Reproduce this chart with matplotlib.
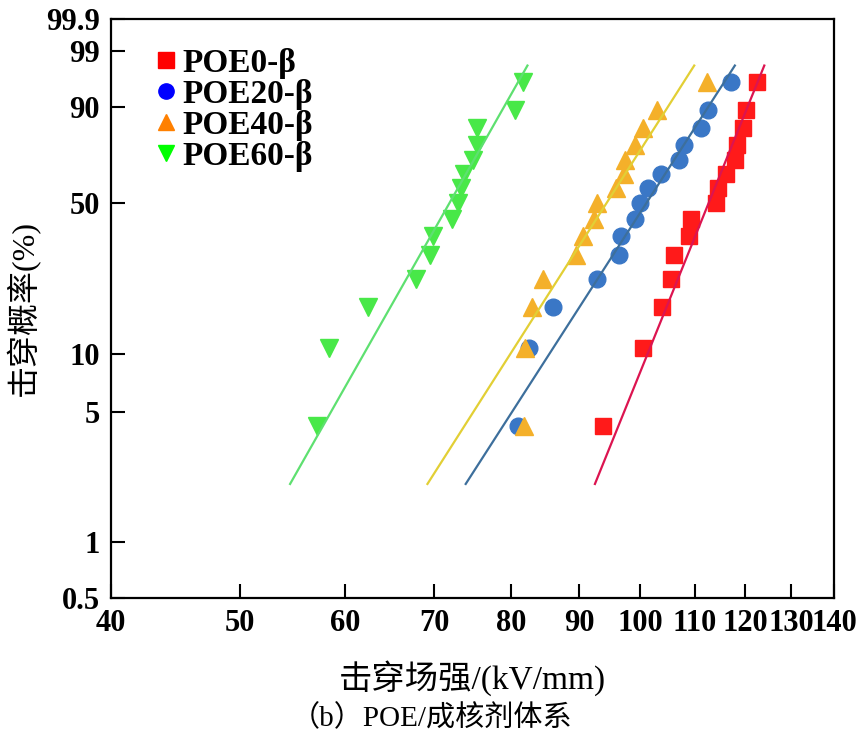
import numpy as np
import matplotlib
matplotlib.use("Agg")
import matplotlib.pyplot as plt
from matplotlib.lines import Line2D

plt.rcParams['font.family'] = ['Liberation Serif', 'Noto Sans CJK SC']

# cumulative failure probability (%) shared by all four sample sets
prob = [4.2, 10.8, 17.3, 23.6, 30.4, 36.9, 43.4, 50.0, 56.6, 63.0, 69.7, 76.1, 82.9, 89.1, 95.7]

# breakdown strength (kV/mm)
poe0 = [93.8, 100.5, 103.9, 105.6, 106.1, 108.9, 109.2, 114.2, 114.6, 116.2, 117.9, 118.3, 119.5, 120.2, 122.5]
poe20 = [81.0, 82.6, 86.0, 92.8, 96.4, 96.8, 99.2, 100.0, 101.5, 103.7, 107.1, 108.0, 111.1, 112.5, 117.1]
poe40 = [81.8, 82.0, 82.9, 84.5, 89.5, 90.7, 92.4, 92.8, 96.0, 97.3, 97.4, 99.2, 100.5, 103.1, 112.4]
poe60 = [57.2, 58.4, 62.4, 67.8, 69.5, 69.9, 72.2, 73.0, 73.4, 73.7, 74.9, 75.4, 75.4, 80.5, 81.7]

labels = ['POE0-β', 'POE20-β', 'POE40-β', 'POE60-β']

# Weibull fit lines: scale alpha (kV/mm), shape beta
alpha = [115.0, 104.5, 97.5, 74.0]
beta = [17.8, 11.2, 11.3, 12.7]
fit_range = [2.06, 97.9]  # % span of the fitted lines

xticks = [40, 50, 60, 70, 80, 90, 100, 110, 120, 130, 140]
yticks = [0.5, 1, 5, 10, 50, 90, 99, 99.9]
yticklabels = ['0.5', '1', '5', '10', '50', '90', '99', '99.9']


def weib(p):
    p = np.clip(np.asarray(p, dtype=float), 1e-6, 100 - 1e-6)
    return np.log(-np.log(1 - p / 100.0))


def weib_inv(w):
    return 100.0 * (1 - np.exp(-np.exp(w)))


fig = plt.figure(figsize=(8.63, 7.42), dpi=100)
ax = fig.add_axes([111 / 863, 1 - 598 / 742, (834 - 111) / 863, (598 - 19) / 742])
ax.set_xscale('log')
ax.set_yscale('function', functions=(weib, weib_inv))

series = [poe0, poe20, poe40, poe60]
markers = ['s', 'o', '^', 'v']
mcolors = ['#ff1a1a', '#3a77c6', '#f4b02a', '#48e848']
lcolors = ['#dc1450', '#3d6f9c', '#e2cf35', '#5ee070']
msizes = [11, 12, 12.5, 12.5]

for i in range(4):
    ax.plot(series[i], prob, linestyle='none', marker=markers[i], ms=msizes[i],
            color=mcolors[i], mec=mcolors[i], zorder=3)

w = np.linspace(weib(fit_range[0]), weib(fit_range[1]), 50)
for i in range(4):
    xs = alpha[i] * np.exp(w / beta[i])
    ax.plot(xs, weib_inv(w), color=lcolors[i], lw=1.6, zorder=4)

ax.set_xlim(40, 140)
ax.set_ylim(0.5, 99.9)
ax.set_xticks(xticks)
ax.set_xticklabels([str(t) for t in xticks])
ax.xaxis.set_minor_locator(matplotlib.ticker.NullLocator())
ax.set_yticks(yticks)
ax.set_yticklabels(yticklabels)
ax.yaxis.set_minor_locator(matplotlib.ticker.NullLocator())

ax.tick_params(axis='both', direction='in', length=10, width=1.5, labelsize=22)
ax.tick_params(axis='x', pad=8)
ax.tick_params(axis='y', pad=8)
for t in ax.get_xticklabels() + ax.get_yticklabels():
    t.set_fontweight('bold')
for s in ax.spines.values():
    s.set_linewidth(1.6)

ax.set_xlabel('击穿场强/(kV/mm)', fontsize=24, labelpad=16)
ax.set_ylabel('击穿概率(%)', fontsize=23, labelpad=4)

# legend uses pure colours, unlike the plotted points
leg_colors = ['#ff0000', '#0000ff', '#ff8000', '#00ff00']
handles = [Line2D([], [], linestyle='none', marker=markers[i], ms=11,
                  color=leg_colors[i], mec=leg_colors[i]) for i in range(4)]
ax.legend(handles, labels, loc='upper left', bbox_to_anchor=(0.025, 0.985),
          frameon=False, prop={'size': 24, 'weight': 'bold'},
          handletextpad=0.0, labelspacing=0.0, borderaxespad=0.2,
          handlelength=1.0)

fig.text(432 / 863, 1 - 718 / 742, '（b）POE/成核剂体系', fontsize=21,
         ha='center', va='center')

fig.savefig('out.png', dpi=100)
